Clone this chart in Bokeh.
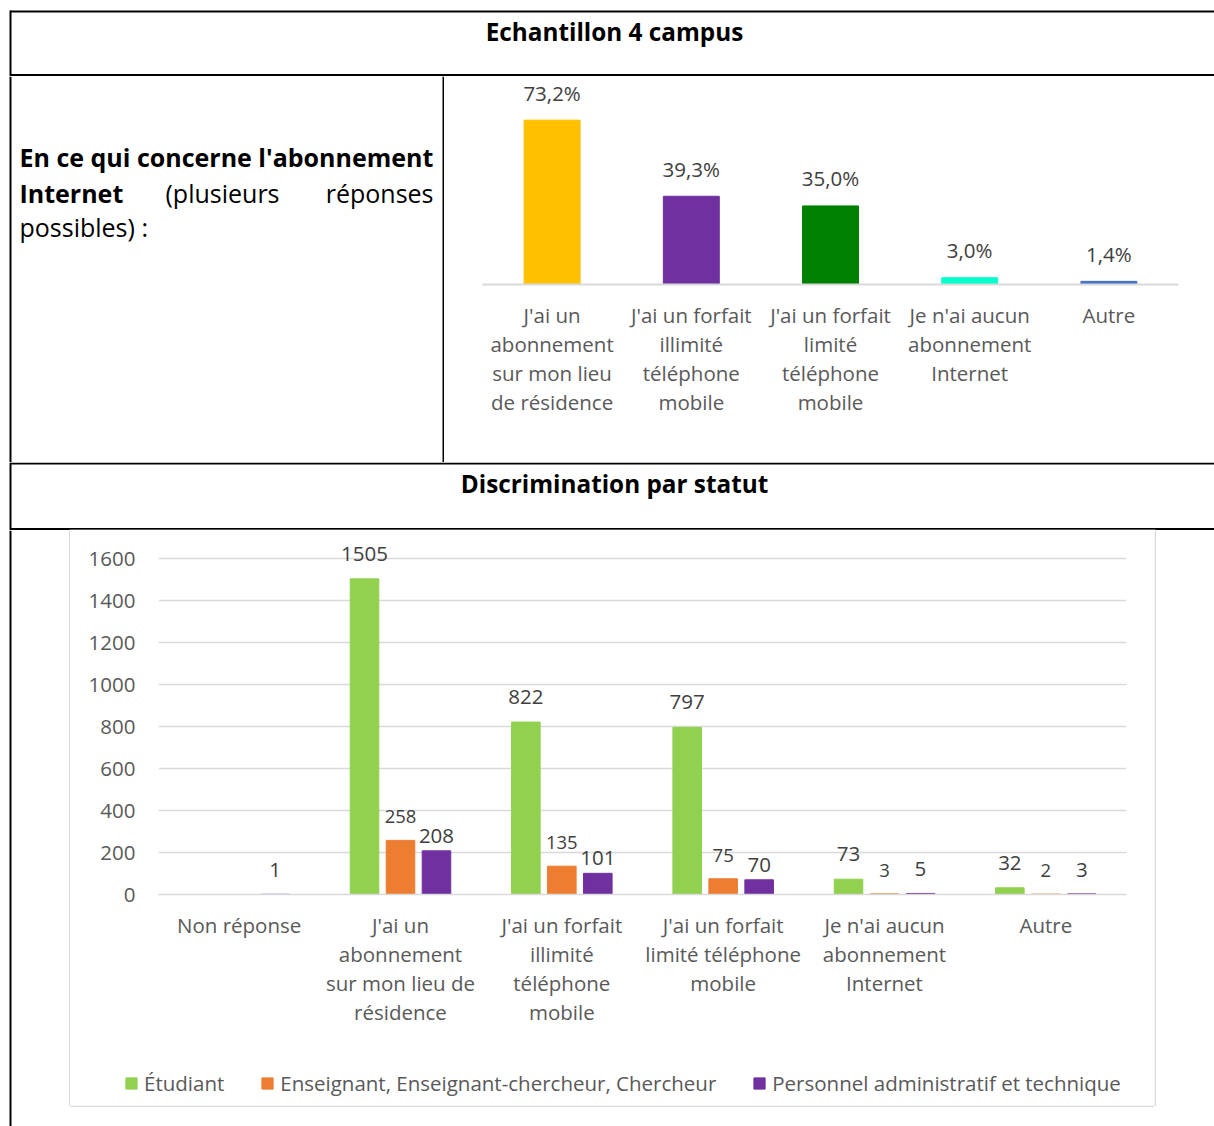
from bokeh.plotting import figure
from bokeh.layouts import column, row
from bokeh.models import (ColumnDataSource, FactorRange, Range1d, LabelSet,
                          FixedTicker, CategoricalAxis, Legend, LegendItem,
                          CustomJSTickFormatter)
from bokeh.transform import dodge
from bokeh.core.properties import value
from bokeh.embed import file_html
from bokeh.resources import INLINE

# ---------------- data ----------------
title_top = "Echantillon 4 campus"
title_bottom = "Discrimination par statut"

top_categories = [
    "J'ai un abonnement sur mon lieu de résidence",
    "J'ai un forfait illimité téléphone mobile",
    "J'ai un forfait limité téléphone mobile",
    "Je n'ai aucun abonnement Internet",
    "Autre",
]
top_values = [73.2, 39.3, 35.0, 3.0, 1.4]
top_colors = ["#FFC000", "#7030A0", "#008000", "#00FFCC", "#4472C4"]

bottom_categories = [
    "Non réponse",
    "J'ai un abonnement sur mon lieu de résidence",
    "J'ai un forfait illimité téléphone mobile",
    "J'ai un forfait limité téléphone mobile",
    "Je n'ai aucun abonnement Internet",
    "Autre",
]
series_names = ["Étudiant",
                "Enseignant, Enseignant-chercheur, Chercheur",
                "Personnel administratif et technique"]
etudiant = [None, 1505, 822, 797, 73, 32]
enseignant = [None, 258, 135, 75, 3, 2]
personnel = [1, 208, 101, 70, 5, 3]
series_colors = ["#92D050", "#ED7D31", "#7030A0"]
y_ticks = [0, 200, 400, 600, 800, 1000, 1200, 1400, 1600]

# wrapped tick labels (layout only)
top_wrapped = ["J'ai un\nabonnement\nsur mon lieu\nde résidence",
               "J'ai un forfait\nillimité\ntéléphone\nmobile",
               "J'ai un forfait\nlimité\ntéléphone\nmobile",
               "Je n'ai aucun\nabonnement\nInternet",
               "Autre"]
bottom_wrapped = ["Non réponse",
                  "J'ai un\nabonnement\nsur mon lieu de\nrésidence",
                  "J'ai un forfait\nillimité\ntéléphone\nmobile",
                  "J'ai un forfait\nlimité téléphone\nmobile",
                  "Je n'ai aucun\nabonnement\nInternet",
                  "Autre"]

FONT = "Open Sans"
W = 1214
GRAY = "#d9d9d9"
LINE_CODE = "const i = factors.indexOf(tick); return (i >= 0 && lines[i]) ? lines[i] : ' ';"


def cell(w, h):
    p = figure(width=w, height=h, x_range=Range1d(0, w), y_range=Range1d(h, 0),
               x_axis_type=None, y_axis_type=None, toolbar_location=None,
               output_backend="svg", min_border=0, outline_line_color=None,
               frame_align=False)
    p.grid.visible = False
    return p


def txt(p, x, y, s, bold=False, align="left", size="25px", color="black"):
    p.text(x=[x], y=[y], text=[s], text_font=value(FONT),
           text_font_style="bold" if bold else "normal", text_font_size=size,
           text_align=align, text_baseline="alphabetic", text_color=color)


def style_axis(ax):
    ax.major_tick_line_color = None
    ax.minor_tick_line_color = None
    ax.major_tick_out = 0
    ax.major_tick_in = 0
    ax.major_label_text_font = FONT
    ax.major_label_text_font_size = "20.5px"
    ax.major_label_text_color = "#595959"


def multiline_xaxes(p, factors, wrapped, first_standoff, next_standoff):
    split = [w.split("\n") for w in wrapped]
    n = max(len(s) for s in split)
    for k in range(n):
        ax = p.xaxis[0] if k == 0 else CategoricalAxis()
        style_axis(ax)
        if k > 0:
            ax.axis_line_color = None
        ax.major_label_standoff = first_standoff if k == 0 else next_standoff
        lines = [(s[k] if k < len(s) else " ") for s in split]
        ax.formatter = CustomJSTickFormatter(args=dict(factors=list(factors), lines=lines),
                                             code=LINE_CODE)
        if k > 0:
            p.add_layout(ax, "below")


# ---------------- row A : title ----------------
rowA = cell(W, 76)
rowA.segment(x0=[10, 10, 10], y0=[11, 74.5, 10], x1=[W, W, 10], y1=[11, 74.5, 76],
             line_color="black", line_width=2)
txt(rowA, 614, 30.5, title_top, bold=True, align="center", size="24.3px")

# ---------------- row B left : question text ----------------
leftB = cell(444, 386)
leftB.segment(x0=[10, 443], y0=[0, 0], x1=[10, 443], y1=[386, 386],
              line_color="black", line_width=2)
txt(leftB, 19, 80, "En ce qui concerne l'abonnement", bold=True)
txt(leftB, 19, 116, "Internet", bold=True)
txt(leftB, 165, 116, "(plusieurs")
txt(leftB, 433, 116, "réponses", align="right")
txt(leftB, 19, 150.5, "possibles) :")

# ---------------- row B right : top chart ----------------
chartB = figure(width=W - 444, height=386, x_range=FactorRange(*top_categories),
                y_range=Range1d(0, 92.65), y_axis_location=None,
                toolbar_location=None, output_backend="svg",
                min_border_left=38, min_border_right=36, min_border_top=0,
                min_border_bottom=178, outline_line_color=None, frame_align=False)
srcB = ColumnDataSource(dict(cat=top_categories, val=top_values, color=top_colors,
                             label=[f"{v:.1f}%".replace(".", ",") for v in top_values]))
chartB.vbar(x="cat", top="val", width=0.402, color="color", source=srcB)
chartB.grid.visible = False
chartB.xaxis.axis_line_color = GRAY
chartB.xaxis.axis_line_width = 2
multiline_xaxes(chartB, top_categories, top_wrapped, 16, -2)
chartB.add_layout(LabelSet(x="cat", y="val", text="label", source=srcB, y_offset=27.5,
                           text_align="center", text_baseline="middle",
                           text_font=value(FONT), text_font_size="20.5px",
                           text_color="#404040"))

# ---------------- row C : second title ----------------
rowC = cell(W, 68)
rowC.segment(x0=[10, 10, 10], y0=[1, 66.5, 0], x1=[W, W, 10], y1=[1, 66.5, 68],
             line_color="black", line_width=2)
rowC.segment(x0=[69], y0=[67.6], x1=[1155], y1=[67.6], line_color=GRAY, line_width=1)
txt(rowC, 614, 20.5, title_bottom, bold=True, align="center", size="24.3px")

# ---------------- row D : bottom chart ----------------
HD = 596
HC = 520      # chart figure
HL = 55       # legend strip (chart box bottom at 575)
leftD = cell(70, HD)
leftD.segment(x0=[10], y0=[0], x1=[10], y1=[HD], line_color="black", line_width=2)
leftD.segment(x0=[69.25], y0=[0], x1=[69.25], y1=[575.5], line_color=GRAY, line_width=1.5)

rightD = cell(60, HD)
rightD.segment(x0=[0.75], y0=[0], x1=[0.75], y1=[575.5], line_color=GRAY, line_width=1.5)

botD = cell(1084, HD - HC - HL)
botD.segment(x0=[0], y0=[0.75], x1=[1084], y1=[0.75], line_color=GRAY, line_width=1.5)

chartD = figure(width=1084, height=HC, x_range=FactorRange(*bottom_categories),
                y_range=Range1d(0, 1735.4), toolbar_location=None, output_backend="svg",
                min_border_left=88, min_border_right=28, min_border_top=0,
                min_border_bottom=HC - 364, outline_line_color=None, frame_align=False)
chartD.xgrid.visible = False
chartD.ygrid.grid_line_color = GRAY
chartD.ygrid.grid_line_width = 1.5
chartD.yaxis.ticker = FixedTicker(ticks=y_ticks)
style_axis(chartD.yaxis[0])
chartD.yaxis.axis_line_color = None
chartD.yaxis.major_label_standoff = 23
chartD.xaxis.axis_line_color = GRAY
chartD.xaxis.axis_line_width = 1.5
multiline_xaxes(chartD, bottom_categories, bottom_wrapped, 16, -2)

legD = cell(1084, HL)

offsets = [-0.223, 0.0, 0.223]
items = []
for i, (name, vals, color) in enumerate(zip(series_names, [etudiant, enseignant, personnel],
                                            series_colors)):
    cats = [c for c, v in zip(bottom_categories, vals) if v is not None]
    vv = [v for v in vals if v is not None]
    if i == 0:
        yoff = [25 for v in vv]
    elif i == 1:
        yoff = [23.5 for v in vv]
    else:
        yoff = [15 if v >= 50 else 24 for v in vv]
    src = ColumnDataSource(dict(cat=cats, val=vv, label=[str(v) for v in vv], yoff=yoff))
    xs = dodge("cat", offsets[i], range=chartD.x_range)
    chartD.vbar(x=xs, top="val", width=0.177, color=color, source=src)
    chartD.add_layout(LabelSet(x=xs, y="val", text="label", source=src, y_offset="yoff",
                               text_align="center", text_baseline="middle",
                               text_font=value(FONT),
                               text_font_size="18.5px" if i == 1 else "20.5px",
                               text_color="#404040"))
    # hidden renderer of the same series, used only as the legend key
    key = legD.vbar(x="val", top="val", width=1, color=color, source=src, visible=False)
    items.append(LegendItem(label=name, renderers=[key]))

lg = Legend(items=items, orientation="horizontal", location=(54, 8),
            glyph_width=14, glyph_height=14, label_standoff=6, spacing=36,
            padding=0, margin=0, border_line_color=None, background_fill_alpha=0,
            inactive_fill_alpha=0,
            label_text_font=FONT, label_text_font_size="20.5px",
            label_text_color="#595959")
legD.add_layout(lg)

layout = column(rowA, row(leftB, chartB), rowC,
                row(leftD, column(chartD, legD, botD), rightD))

open("out.html", "w").write(file_html(layout, INLINE, "chart"))
